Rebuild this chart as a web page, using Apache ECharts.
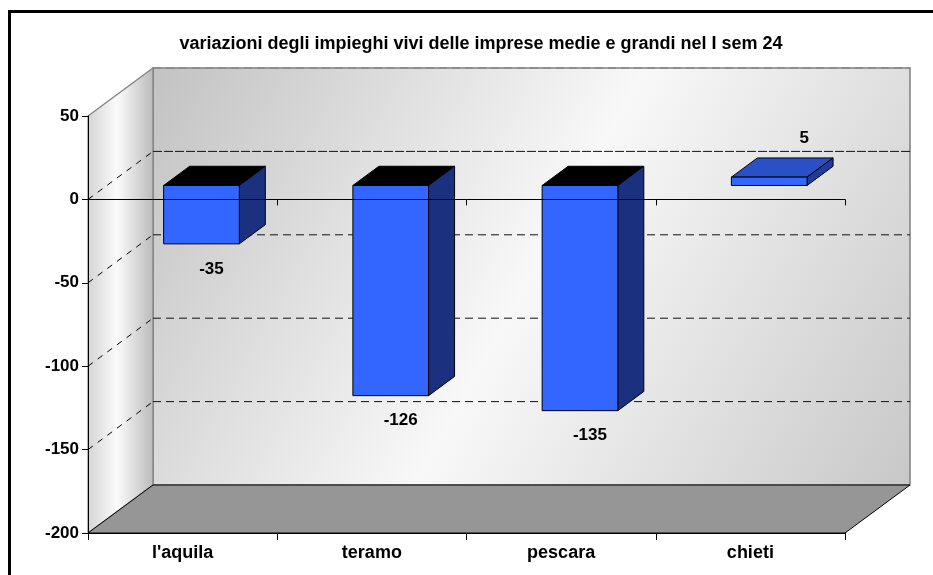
<!DOCTYPE html>
<html>
<head>
<meta charset="utf-8">
<script src="https://cdn.jsdelivr.net/npm/echarts@6/dist/echarts.min.js"></script>
<style>
html,body{margin:0;padding:0;background:#fff;}
#chart{width:933px;height:575px;}
</style>
</head>
<body>
<div id="chart"></div>
<script>
const titleText = "variazioni degli impieghi vivi delle imprese medie e grandi nel I sem 24";
const categories = ["l'aquila", "teramo", "pescara", "chieti"];
const values = [-35, -126, -135, 5];
const yTicks = [50, 0, -50, -100, -150, -200];
const gridLevels = [0, -50, -100, -150];

const FONT = "'Liberation Sans', Arial, sans-serif";
const DX = 65, DY = -48;          // 3D depth offset in px
const FRONT = 0.29, DEPTH = 0.4;  // bar placement within depth

const chart = echarts.init(document.getElementById('chart'), null, {renderer: 'canvas'});

function renderWalls(params, api) {
  const cs = params.coordSys;
  const x0 = cs.x, x1 = cs.x + cs.width;
  const yTop = api.coord([0, yTicks[0]])[1];
  const yBot = api.coord([0, yTicks[yTicks.length - 1]])[1];
  const children = [];
  // back wall
  children.push({
    type: 'polygon',
    shape: {points: [[x0 + DX, yTop + DY], [x1 + DX, yTop + DY], [x1 + DX, yBot + DY], [x0 + DX, yBot + DY]]},
    style: {
      fill: new echarts.graphic.LinearGradient(0, 0, 1, 1, [
        {offset: 0, color: '#c2c2c2'}, {offset: 0.5, color: '#f8f8f8'}, {offset: 1, color: '#c8c8c8'}
      ]),
      stroke: '#808080', lineWidth: 1.5
    }
  });
  // left wall
  children.push({
    type: 'polygon',
    shape: {points: [[x0, yTop], [x0 + DX, yTop + DY], [x0 + DX, yBot + DY], [x0, yBot]]},
    style: {
      fill: new echarts.graphic.LinearGradient(0, 0, 1, 0, [
        {offset: 0, color: '#d4d4d4'}, {offset: 0.45, color: '#fbfbfb'}, {offset: 1, color: '#bababa'}
      ]),
      stroke: '#808080', lineWidth: 1.2
    }
  });
  // floor
  children.push({
    type: 'polygon',
    shape: {points: [[x0, yBot], [x1, yBot], [x1 + DX, yBot + DY], [x0 + DX, yBot + DY]]},
    style: {fill: '#969696', stroke: '#000', lineWidth: 1}
  });
  // gridlines on back wall and left wall
  gridLevels.forEach(function (v) {
    const y = api.coord([0, v])[1];
    children.push({
      type: 'line',
      shape: {x1: x0 + DX, y1: y + DY, x2: x1 + DX, y2: y + DY},
      style: {stroke: '#111', lineWidth: 1, lineDash: v === 0 ? [9, 2] : [8, 5]}
    });
    children.push({
      type: 'line',
      shape: {x1: x0, y1: y, x2: x0 + DX, y2: y + DY},
      style: {stroke: '#000', lineWidth: 1, lineDash: [6, 6]}
    });
  });
  // back wall top dashed edge
  children.push({
    type: 'line',
    shape: {x1: x0 + DX, y1: yTop + DY, x2: x1 + DX, y2: yTop + DY},
    style: {stroke: '#888', lineWidth: 1.5, lineDash: [8, 5]}
  });
  return {type: 'group', children: children};
}

function renderBar(params, api) {
  const i = api.value(0), v = api.value(1);
  const base = api.coord([i, 0]);
  const end = api.coord([i, v]);
  const band = api.size([1, 0])[0];
  const hw = band * 0.2;
  const cx = base[0] + FRONT * DX;
  const L = cx - hw, R = cx + hw;
  const yA = base[1] + FRONT * DY, yB = end[1] + FRONT * DY;
  const top = Math.min(yA, yB), bot = Math.max(yA, yB);
  const bdx = DEPTH * DX, bdy = DEPTH * DY;
  const neg = v < 0;
  const topColor = neg ? '#000000' : '#2a50c6';
  const sideColor = neg ? '#1b3180' : '#1f3c9c';
  const frontColor = '#3366ff';
  const children = [
    {type: 'polygon', shape: {points: [[L, top], [R, top], [R + bdx, top + bdy], [L + bdx, top + bdy]]},
      style: {fill: topColor, stroke: '#000', lineWidth: 1}},
    {type: 'polygon', shape: {points: [[R, top], [R + bdx, top + bdy], [R + bdx, bot + bdy], [R, bot]]},
      style: {fill: sideColor, stroke: '#000', lineWidth: 1}},
    {type: 'rect', shape: {x: L, y: top, width: R - L, height: bot - top},
      style: {fill: frontColor, stroke: '#000', lineWidth: 1}},
    {type: 'text', x: neg ? cx + 10 : cx + 35, y: neg ? bot + 25 : top - 39,
      style: {text: String(v), fill: '#000', font: 'bold 17px ' + FONT, align: 'center', verticalAlign: 'middle'}}
  ];
  return {type: 'group', children: children};
}

const option = {
  animation: false,
  backgroundColor: '#fff',
  title: {
    text: titleText, left: 476, top: 30, textAlign: 'center',
    textStyle: {fontFamily: FONT, fontSize: 18, fontWeight: 'bold', color: '#000'}
  },
  grid: {left: 88, right: 88, top: 116, bottom: 42, containLabel: false},
  xAxis: [
    {
      type: 'category', data: categories, position: 'bottom', z: 10,
      axisLine: {onZero: false, lineStyle: {color: '#000', width: 1}},
      axisTick: {show: true, length: 7, lineStyle: {color: '#000'}},
      axisLabel: {color: '#000', fontFamily: FONT, fontSize: 18, fontWeight: 'bold', margin: 11},
      splitLine: {show: false}
    },
    {
      type: 'category', data: categories, position: 'bottom', z: 10,
      axisLine: {onZero: true, lineStyle: {color: '#000', width: 1}},
      axisTick: {show: true, length: 6, lineStyle: {color: '#000'}},
      axisLabel: {show: false},
      splitLine: {show: false}
    }
  ],
  yAxis: {
    type: 'value', min: -200, max: 50, interval: 50, z: 10,
    axisLine: {show: true, lineStyle: {color: '#000', width: 1}},
    axisTick: {show: true, length: 6, lineStyle: {color: '#000'}},
    axisLabel: {color: '#000', fontFamily: FONT, fontSize: 17, fontWeight: 'bold', margin: 9},
    splitLine: {show: false}
  },
  series: [
    {
      type: 'custom', name: 'walls', z: 1, clip: false, silent: true,
      xAxisIndex: 0, yAxisIndex: 0,
      renderItem: renderWalls, data: [[0, 0]]
    },
    {
      type: 'custom', name: 'bars', z: 3, clip: false,
      xAxisIndex: 0, yAxisIndex: 0,
      renderItem: renderBar,
      data: values.map(function (v, i) { return [i, v]; })
    }
  ],
  graphic: [{
    type: 'rect', z: 100, silent: true,
    shape: {x: 9.5, y: 11.5, width: 960, height: 600},
    style: {fill: 'none', stroke: '#000', lineWidth: 3}
  }]
};
chart.setOption(option);
</script>
</body>
</html>
